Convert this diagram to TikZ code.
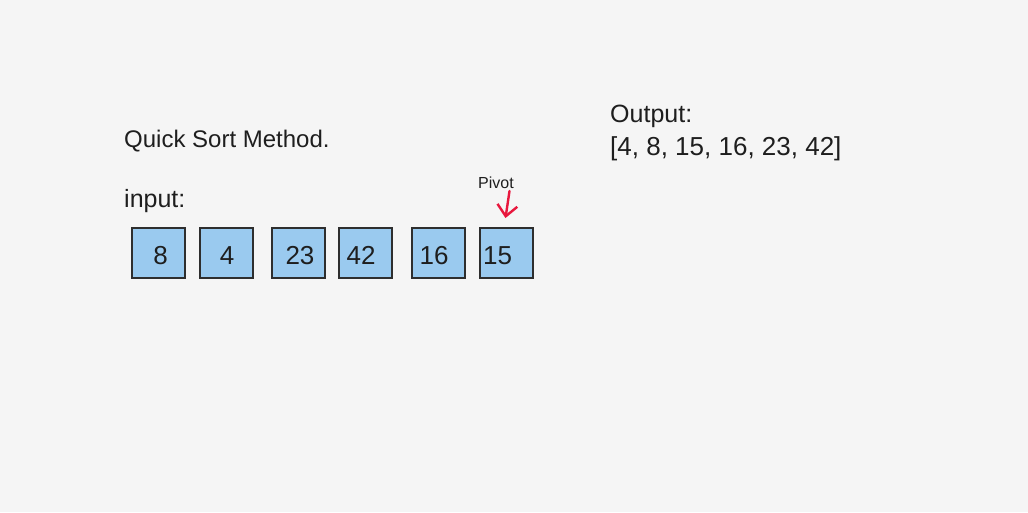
\documentclass[tikz,border=0pt]{standalone}
\usepackage{fontspec}
\setmainfont{Liberation Sans}
\usetikzlibrary{arrows.meta}
\definecolor{bgc}{HTML}{F5F5F5}
\definecolor{boxfill}{HTML}{9ACAEF}
\definecolor{boxline}{HTML}{2E2E2E}
\definecolor{pivred}{HTML}{E8173D}
\definecolor{txt}{HTML}{1E1E1E}
\begin{document}
\begin{tikzpicture}[x=1pt,y=-1pt,
  cell/.style={draw=boxline,fill=boxfill,line width=2pt,minimum width=53pt,minimum height=50pt,inner sep=0pt},
  digit/.style={anchor=base,text=txt,font=\fontsize{26}{26}\selectfont,inner sep=0pt},
  heading/.style={anchor=base west,text=txt,inner sep=0pt},
  small/.style={anchor=base west,text=txt,font=\fontsize{16}{16}\selectfont,inner sep=0pt},
  pivarrow/.style={draw=pivred,line width=2.4pt,line cap=round,-{Straight Barb[length=11pt,width=20pt,line width=2.4pt]}}
]
\fill[bgc] (0,0) rectangle (1028,512);
\useasboundingbox (0,0) rectangle (1028,512);

\node[heading,font=\fontsize{24}{24}\selectfont] (title) at (124,147) {Quick Sort Method.};
\node[heading,font=\fontsize{25}{25}\selectfont] (inp) at (124,207) {input:};
\node[heading,font=\fontsize{25}{25}\selectfont] (outl) at (610,122) {Output:};
\node[heading,font=\fontsize{26}{26}\selectfont] (outv) at (610,155) {[4, 8, 15, 16, 23, 42]};

\node[cell] (b1) at (158,252.5) {};
\node[cell] (b2) at (226.7,252.5) {};
\node[cell] (b3) at (298.8,252.5) {};
\node[cell] (b4) at (365.3,252.5) {};
\node[cell] (b5) at (438.2,252.5) {};
\node[cell] (b6) at (506.7,252.5) {};

\node[digit] (d1) at (160.5,264) {8};
\node[digit] (d2) at (227,264) {4};
\node[digit] (d3) at (300,264) {23};
\node[digit] (d4) at (361,264) {42};
\node[digit] (d5) at (434,264) {16};
\node[digit] (d6) at (497.5,264) {15};

\node[small] (piv) at (478,188) {Pivot};
\coordinate (a0) at (509.5,191);
\coordinate (a1) at (505.5,218);
\draw[pivarrow] (a0) -- (a1);
\end{tikzpicture}
\end{document}
